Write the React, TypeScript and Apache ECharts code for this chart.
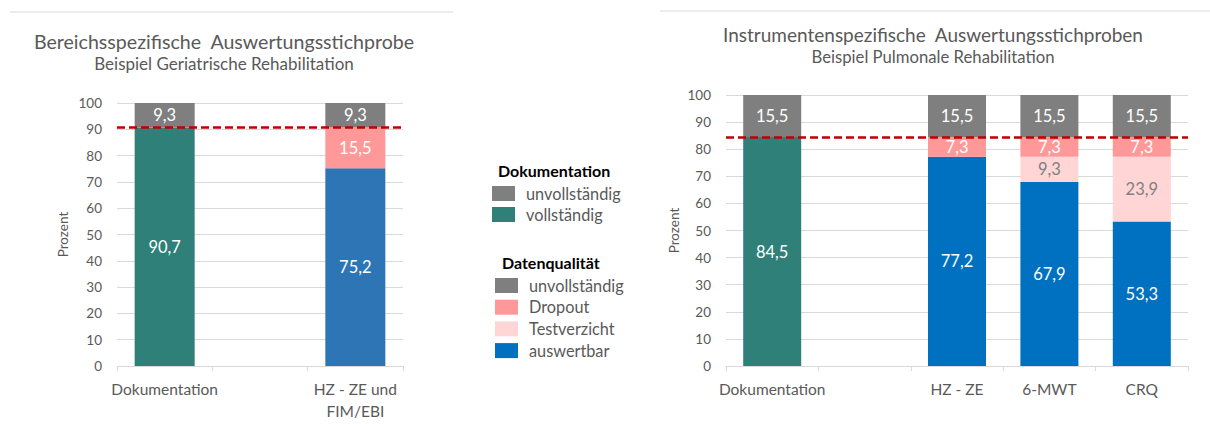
import React, { useEffect, useRef } from "react";
import * as echarts from "echarts";

// ---------- data ----------
const leftCategories = ["Dokumentation", "", "HZ - ZE und\nFIM/EBI"];
const leftVollstaendig = [90.7, "-", "-"];
const leftAuswertbar = ["-", "-", 75.2];
const leftDropout = ["-", "-", 15.5];
const leftUnvollstaendig = [9.3, "-", 9.3];
const leftThreshold = 90.7;

const rightCategories = ["Dokumentation", "", "HZ - ZE", "6-MWT", "CRQ"];
const rightVollstaendig = [84.5, "-", "-", "-", "-"];
const rightAuswertbar = ["-", "-", 77.2, 67.9, 53.3];
const rightTestverzicht = ["-", "-", "-", 9.3, 23.9];
const rightDropout = ["-", "-", 7.3, 7.3, 7.3];
const rightUnvollstaendig = [15.5, "-", 15.5, 15.5, 15.5];
const rightThreshold = 84.5;

const leftTitle = "Bereichsspezifische  Auswertungsstichprobe";
const leftSubtitle = "Beispiel Geriatrische Rehabilitation";
const rightTitle = "Instrumentenspezifische  Auswertungsstichproben";
const rightSubtitle = "Beispiel Pulmonale Rehabilitation";

const legendDoku = ["unvollständig", "vollständig"];
const legendQual = ["unvollständig", "Dropout", "Testverzicht", "auswertbar"];

// ---------- styles ----------
const FONT = "Lato, 'Open Sans', sans-serif";
const C_GRAY = "#7f7f7f";
const C_TEAL = "#2e8078";
const C_BLUE_L = "#2e75b6";
const C_BLUE_R = "#0070c0";
const C_DROP = "#ff9999";
const C_TEST = "#ffd5d5";
const C_RED = "#c00000";
const C_TEXT = "#595959";
const C_GRID = "#d9d9d9";

const fmt = (p: any) => {
  const v = typeof p.value === "number" ? p.value : parseFloat(p.value);
  if (isNaN(v)) return "";
  return v.toFixed(1).replace(".", ",");
};

function barSeries(
  name: string,
  data: any[],
  color: string,
  axisIdx: number,
  labelColor: string,
  barWidth: number,
  extra: any = {}
) {
  return {
    type: "bar",
    name,
    stack: "s" + axisIdx,
    xAxisIndex: axisIdx,
    yAxisIndex: axisIdx,
    data,
    barWidth,
    itemStyle: { color },
    label: {
      show: true,
      position: "inside",
      formatter: fmt,
      color: labelColor,
      fontSize: 16.5,
      fontFamily: FONT,
    },
    ...extra,
  };
}

function markLine(value: number) {
  return {
    markLine: {
      silent: true,
      symbol: "none",
      label: { show: false },
      lineStyle: { color: C_RED, width: 2.5, type: [8, 4] },
      data: [{ yAxis: value }],
    },
  };
}

export default function App() {
  const ref = useRef<HTMLDivElement>(null);

  useEffect(() => {
    document.body.style.margin = "0";
    const chart = echarts.init(ref.current!, null, { renderer: "svg" });

    const xAxisBase = (cats: string[], idx: number) => ({
      type: "category",
      gridIndex: idx,
      data: cats,
      axisLine: { lineStyle: { color: C_GRID, width: 1 } },
      axisTick: { show: true, length: 5, lineStyle: { color: C_GRID } },
      axisLabel: {
        color: C_TEXT,
        fontSize: 15.5,
        fontFamily: FONT,
        margin: 12,
        lineHeight: 22,
        interval: 0,
      },
    });
    const yAxisBase = (idx: number, nameGap: number) => ({
      type: "value",
      gridIndex: idx,
      min: 0,
      max: 100,
      interval: 10,
      name: "Prozent",
      nameLocation: "middle",
      nameGap,
      nameTextStyle: { color: C_TEXT, fontSize: 13.5, fontFamily: FONT },
      axisLine: { show: false },
      axisTick: { show: false },
      axisLabel: {
        color: C_TEXT,
        fontSize: 13.5,
        fontFamily: FONT,
        margin: 15,
      },
      splitLine: { lineStyle: { color: C_GRID, width: 1 } },
    });

    const legendItems: any[] = [];
    const legendRow = (x: number, y: number, color: string, text: string) => {
      legendItems.push({
        type: "rect",
        shape: { x, y: y - 7, width: 23, height: 15 },
        style: { fill: color },
      });
      legendItems.push({
        type: "text",
        x: x + 34,
        y,
        style: {
          text,
          fill: C_TEXT,
          font: `16.3px ${FONT}`,
          verticalAlign: "middle",
        },
      });
    };
    const dokuColors = [C_GRAY, C_TEAL];
    legendDoku.forEach((t, i) => legendRow(492, 193 + i * 21, dokuColors[i], t));
    const qualColors = [C_GRAY, C_DROP, C_TEST, C_BLUE_R];
    legendQual.forEach((t, i) => legendRow(495, 285 + i * 21.7, qualColors[i], t));

    chart.setOption({
      animation: false,
      backgroundColor: "#fff",
      title: [
        {
          text: leftTitle,
          subtext: leftSubtitle,
          left: 219,
          top: 26,
          textAlign: "center",
          itemGap: 4,
          textStyle: { color: C_TEXT, fontSize: 19.6, fontWeight: "normal", fontFamily: FONT },
          subtextStyle: { color: C_TEXT, fontSize: 17, fontFamily: FONT },
        },
        {
          text: rightTitle,
          subtext: rightSubtitle,
          left: 928,
          top: 20,
          textAlign: "center",
          itemGap: 4,
          textStyle: { color: C_TEXT, fontSize: 19, fontWeight: "normal", fontFamily: FONT },
          subtextStyle: { color: C_TEXT, fontSize: 16.7, fontFamily: FONT },
        },
      ],
      grid: [
        { left: 117, top: 103, width: 286, height: 263 },
        { left: 726, top: 95, width: 462, height: 271 },
      ],
      xAxis: [xAxisBase(leftCategories, 0), xAxisBase(rightCategories, 1)],
      yAxis: [yAxisBase(0, 47), yAxisBase(1, 45)],
      graphic: [
        {
          type: "line",
          shape: { x1: 10, y1: 12, x2: 453, y2: 12 },
          style: { stroke: C_GRID, lineWidth: 1 },
        },
        {
          type: "line",
          shape: { x1: 660, y1: 11, x2: 1210, y2: 11 },
          style: { stroke: C_GRID, lineWidth: 1 },
        },
        {
          type: "text",
          x: 498,
          y: 170,
          style: {
            text: "Dokumentation",
            fill: "#000",
            font: `bold 16px ${FONT}`,
            verticalAlign: "middle",
          },
        },
        {
          type: "text",
          x: 502,
          y: 262,
          style: {
            text: "Datenqualität",
            fill: "#000",
            font: `bold 16px ${FONT}`,
            verticalAlign: "middle",
          },
        },
        ...legendItems,
      ],
      series: [
        barSeries("vollständig", leftVollstaendig, C_TEAL, 0, "#fff", 60),
        barSeries("auswertbar", leftAuswertbar, C_BLUE_L, 0, "#fff", 60),
        barSeries("Dropout", leftDropout, C_DROP, 0, "#fff", 60),
        barSeries("unvollständig", leftUnvollstaendig, C_GRAY, 0, "#fff", 60, markLine(leftThreshold)),
        barSeries("vollständig", rightVollstaendig, C_TEAL, 1, "#fff", 58),
        barSeries("auswertbar", rightAuswertbar, C_BLUE_R, 1, "#fff", 58),
        barSeries("Testverzicht", rightTestverzicht, C_TEST, 1, C_GRAY, 58),
        barSeries("Dropout", rightDropout, C_DROP, 1, "#fff", 58),
        barSeries("unvollständig", rightUnvollstaendig, C_GRAY, 1, "#fff", 58, markLine(rightThreshold)),
      ],
    });
    return () => chart.dispose();
  }, []);

  return (
    <div
      ref={ref}
      style={{ position: "absolute", left: 0, top: 0, width: 1210, height: 424 }}
    />
  );
}
